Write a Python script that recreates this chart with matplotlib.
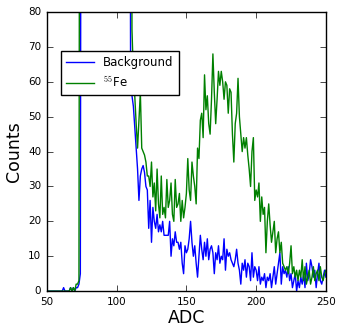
import numpy as np
import matplotlib
matplotlib.use('Agg')
import matplotlib.pyplot as plt

# ADC bins shown on the plot (50..250)
adc = list(range(50, 251))

# counts per bin; values above 80 are clipped off-axis
background = ([0] * 12 +
              [1, 0, 0, 0, 0, 1, 0, 1, 0, 1, 1, 2, 5] +
              [300] * 35 +
              [62, 56, 53, 47, 41, 35, 26, 33, 35, 36,
               34, 30, 29, 18, 26, 14, 24, 20, 18, 22,
               17, 19, 17, 20, 16, 16, 16, 16, 20, 10,
               15, 13, 17, 14, 14, 12, 14, 8, 5, 13,
               11, 12, 15, 20, 14, 10, 13, 8, 4, 10,
               16, 12, 9, 14, 10, 15, 9, 12, 13, 11,
               5, 11, 9, 13, 8, 10, 9, 15, 6, 12,
               10, 11, 9, 8, 7, 9, 12, 8, 6, 2,
               8, 6, 9, 4, 8, 7, 3, 11, 4, 7,
               6, 3, 7, 2, 4, 3, 5, 1, 4, 3,
               5, 1, 4, 7, 2, 5, 8, 11, 2, 7,
               5, 6, 4, 7, 3, 5, 1, 3, 5, 0,
               3, 1, 4, 2, 5, 1, 8, 3, 5, 9,
               7, 4, 6, 1, 5, 8, 3, 2, 4, 6,
               4])

fe55 = ([0] * 17 +
        [1, 0, 1, 0, 2, 2, 3] +
        [300] * 37 +
        [75, 62, 56, 48, 41, 49, 57, 41, 40,
         39, 37, 33, 33, 30, 37, 27, 31, 23, 35,
         25, 21, 33, 22, 24, 21, 32, 24, 26, 31,
         22, 20, 32, 24, 25, 28, 20, 26, 21, 24,
         28, 38, 29, 26, 37, 33, 30, 25, 41, 38,
         49, 51, 44, 62, 52, 56, 48, 45, 55, 68,
         57, 48, 55, 63, 59, 63, 60, 55, 60, 59,
         51, 58, 57, 45, 37, 48, 51, 61, 50, 45,
         40, 44, 41, 44, 39, 35, 30, 40, 44, 26,
         29, 27, 31, 20, 27, 22, 24, 11, 20, 25,
         19, 14, 17, 20, 11, 15, 17, 11, 14, 8,
         7, 6, 7, 5, 8, 13, 5, 7, 4, 6,
         3, 6, 4, 9, 3, 7, 2, 4, 6, 2,
         4, 7, 3, 5, 6, 3, 7, 4, 3, 5,
         6])

plt.style.use('classic')
fig = plt.figure(figsize=(3.42, 3.35), dpi=100, facecolor='white')
ax = fig.add_axes([0.137, 0.131, 0.816, 0.833])

ax.plot(adc, background, color='b', lw=1.0, label='Background')
ax.plot(adc, fe55, color='g', lw=1.0, label='$^{55}$Fe')

ax.set_xlim(50, 250)
ax.set_ylim(0, 80)
ax.set_xticks([50, 100, 150, 200, 250])
ax.set_yticks(range(0, 81, 10))
ax.tick_params(labelsize=7.5)
ax.set_xlabel('ADC', fontsize=12.5, labelpad=2)
ax.set_ylabel('Counts', fontsize=12.5, labelpad=4)

leg = ax.legend(loc='upper left', bbox_to_anchor=(0.05, 0.86), borderaxespad=0,
                fontsize=8.5, numpoints=1, handlelength=2.4, fancybox=False)
leg.get_frame().set_edgecolor('black')

fig.savefig('out.png', dpi=100, facecolor='white')
